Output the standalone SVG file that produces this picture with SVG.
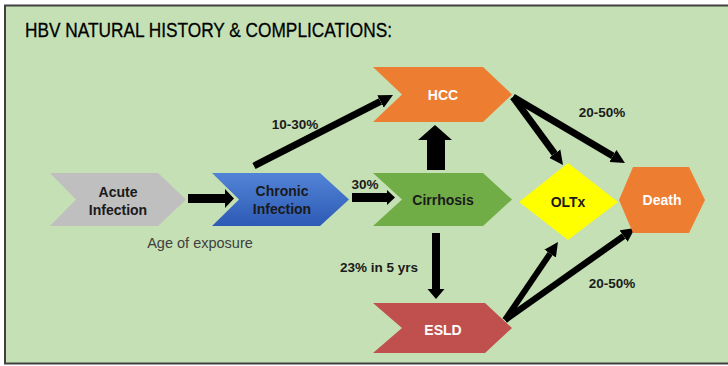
<svg xmlns="http://www.w3.org/2000/svg" width="728" height="366" viewBox="0 0 728 366">
<style>
.lbl{font-family:"Liberation Sans",Arial,sans-serif;font-weight:bold;font-size:14px;text-anchor:middle;dominant-baseline:central}
.dark{fill:#1a1a1a}
.white{fill:#ffffff}
.pct{font-family:"Liberation Sans",Arial,sans-serif;font-weight:bold;font-size:13.5px;text-anchor:middle;dominant-baseline:central;fill:#1a1a1a}
.conn{stroke:#000;stroke-width:7;fill:none;marker-end:url(#ah)}
.blk{fill:#000}
</style>
<defs>
<marker id="ah" viewBox="0 0 10 10" refX="0" refY="5" markerUnits="userSpaceOnUse" markerWidth="14" markerHeight="15" orient="auto">
<path d="M0,0 L10,5 L0,10 z" fill="#000"/>
</marker>
<linearGradient id="blue" x1="0" y1="0" x2="0" y2="1">
<stop offset="0" stop-color="#5284D6"/>
<stop offset="1" stop-color="#2D5AB5"/>
</linearGradient>
</defs>
<rect x="5" y="5.5" width="740" height="358" fill="#C5E0B4" stroke="#404040" stroke-width="2"/>
<text x="25" y="37" font-family="Liberation Sans,Arial,sans-serif" font-size="20.5" fill="#000" stroke="#000" stroke-width="0.3" textLength="367" lengthAdjust="spacingAndGlyphs">HBV NATURAL HISTORY &amp; COMPLICATIONS:</text>

<g id="connectors">
<polygon class="blk" points="188,194 225,194 225,189 234,198.5 225,208 225,203 188,203"/>
<polygon class="blk" points="352,193 387,193 387,190 395,197.5 387,205 387,202 352,202"/>
<polygon class="blk" points="427,170 427,140 418,140 435,125 452,140 445,140 445,170"/>
<polygon class="blk" points="432,233 440,233 440,289 444.5,289 436,299 427.5,289 432,289"/>
<line class="conn" x1="254" y1="166" x2="380.5" y2="101.4"/>
<line class="conn" x1="513" y1="97" x2="554.7" y2="153.7"/>
<line class="conn" x1="513" y1="97" x2="612.9" y2="155.9"/>
<line class="conn" x1="505" y1="320" x2="550.1" y2="253.6" style="stroke-width:6"/>
<line class="conn" x1="505" y1="320" x2="623.6" y2="236.1" style="stroke-width:6.5"/>
<text class="pct" x="295" y="124">10-30%</text>
<text class="pct" x="365" y="184">30%</text>
<text class="pct" x="379" y="267">23% in 5 yrs</text>
<text class="pct" x="602" y="112">20-50%</text>
<text class="pct" x="612" y="283">20-50%</text>
<text x="200" y="243" font-family="Liberation Sans,Arial,sans-serif" font-size="14.5" fill="#404040" text-anchor="middle" dominant-baseline="central">Age of exposure</text>
</g>

<g id="acute">
<polygon points="50,173 158,173 186,199.5 158,226 50,226 76,199.5" fill="#BFBFBF"/>
<text class="lbl dark" x="118" y="192">Acute</text>
<text class="lbl dark" x="118" y="210">Infection</text>
</g>
<g id="chronic">
<polygon points="212,173 320,173 349,199.5 320,226 212,226 239,199.5" fill="url(#blue)"/>
<text class="lbl dark" x="282" y="191">Chronic</text>
<text class="lbl dark" x="282" y="209">Infection</text>
</g>
<g id="hcc">
<polygon points="373,67 483,67 512,94.5 483,122 373,122 402,94.5" fill="#ED7D31"/>
<text class="lbl white" x="443" y="95">HCC</text>
</g>
<g id="cirrhosis">
<polygon points="373,173 483,173 512,199.5 483,226 373,226 402,199.5" fill="#70AD47"/>
<text class="lbl dark" x="443" y="200">Cirrhosis</text>
</g>
<g id="esld">
<polygon points="373,303 485,303 512,328 485,353 373,353 402,328" fill="#C0504D"/>
<text class="lbl white" x="443" y="330">ESLD</text>
</g>
<g id="oltx">
<polygon points="519,202 568,163 618,202 568,240" fill="#FFFF00"/>
<text class="lbl dark" x="568" y="202">OLTx</text>
</g>
<g id="death">
<polygon points="619,200 633,167 689,167 705,200 689,233 633,233" fill="#ED7D31"/>
<text class="lbl white" x="662" y="200">Death</text>
</g>
</svg>
